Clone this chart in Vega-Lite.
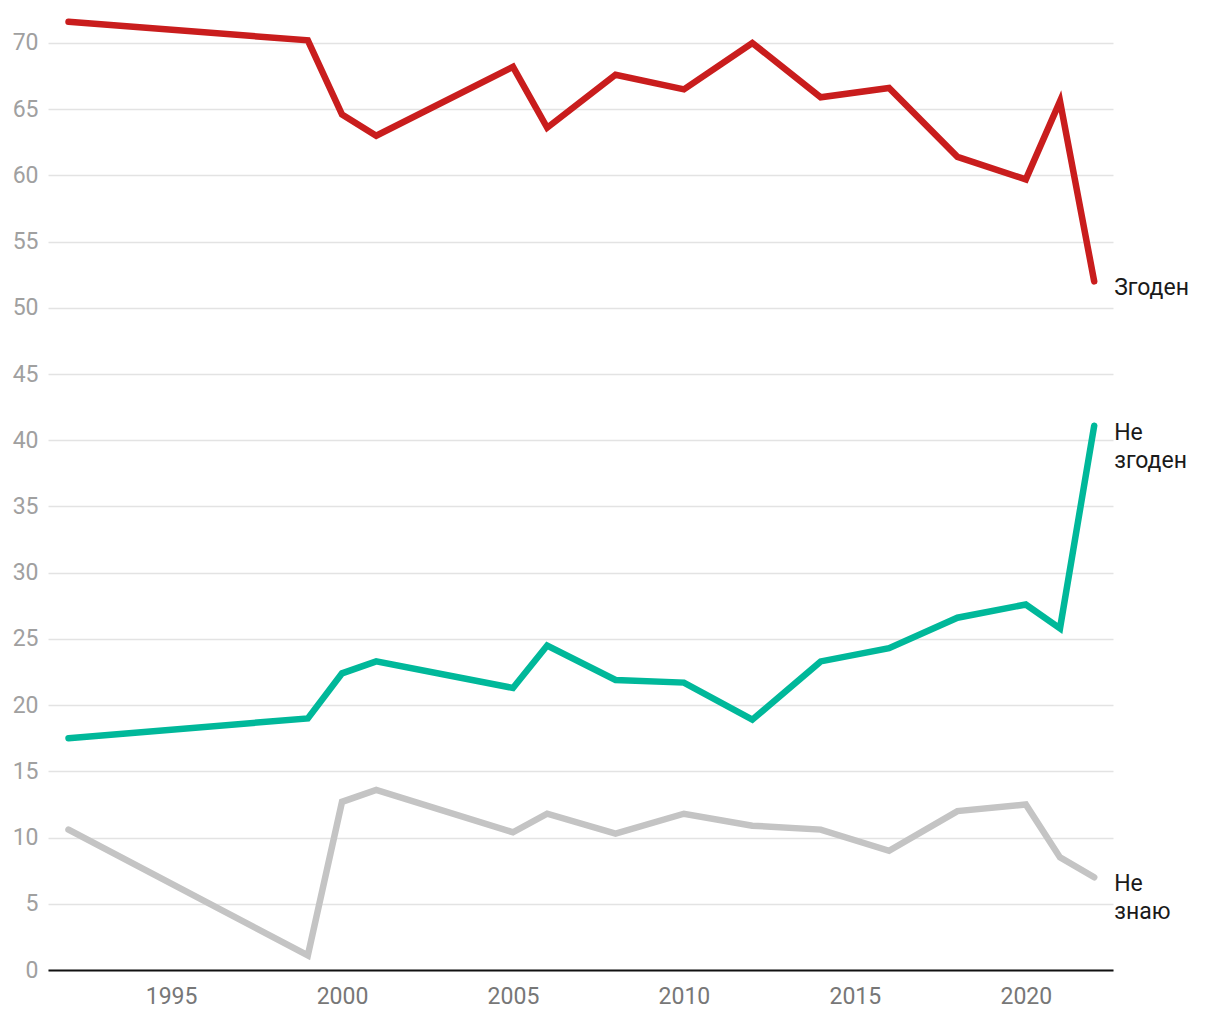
{
  "$schema": "https://vega.github.io/schema/vega-lite/v6.json",
  "width": 1065,
  "height": 960,
  "autosize": "none",
  "padding": {"left": 48, "top": 10, "right": 107, "bottom": 50},
  "background": "white",
  "config": {
    "font": "Roboto",
    "view": {"stroke": null},
    "text": {"lineBreak": "\n"}
  },
  "datasets": {
    "series": [
      {"year": 1992, "s": "Згоден", "v": 71.6},
      {"year": 1999, "s": "Згоден", "v": 70.2},
      {"year": 2000, "s": "Згоден", "v": 64.6},
      {"year": 2001, "s": "Згоден", "v": 63.0},
      {"year": 2005, "s": "Згоден", "v": 68.2},
      {"year": 2006, "s": "Згоден", "v": 63.6},
      {"year": 2008, "s": "Згоден", "v": 67.6},
      {"year": 2010, "s": "Згоден", "v": 66.5},
      {"year": 2012, "s": "Згоден", "v": 70.0},
      {"year": 2014, "s": "Згоден", "v": 65.9},
      {"year": 2016, "s": "Згоден", "v": 66.6},
      {"year": 2018, "s": "Згоден", "v": 61.4},
      {"year": 2020, "s": "Згоден", "v": 59.7},
      {"year": 2021, "s": "Згоден", "v": 65.6},
      {"year": 2022, "s": "Згоден", "v": 52.0},
      {"year": 1992, "s": "Не згоден", "v": 17.5},
      {"year": 1999, "s": "Не згоден", "v": 19.0},
      {"year": 2000, "s": "Не згоден", "v": 22.4},
      {"year": 2001, "s": "Не згоден", "v": 23.3},
      {"year": 2005, "s": "Не згоден", "v": 21.3},
      {"year": 2006, "s": "Не згоден", "v": 24.5},
      {"year": 2008, "s": "Не згоден", "v": 21.9},
      {"year": 2010, "s": "Не згоден", "v": 21.7},
      {"year": 2012, "s": "Не згоден", "v": 18.9},
      {"year": 2014, "s": "Не згоден", "v": 23.3},
      {"year": 2016, "s": "Не згоден", "v": 24.3},
      {"year": 2018, "s": "Не згоден", "v": 26.6},
      {"year": 2020, "s": "Не згоден", "v": 27.6},
      {"year": 2021, "s": "Не згоден", "v": 25.8},
      {"year": 2022, "s": "Не згоден", "v": 41.1},
      {"year": 1992, "s": "Не знаю", "v": 10.6},
      {"year": 1999, "s": "Не знаю", "v": 1.1},
      {"year": 2000, "s": "Не знаю", "v": 12.7},
      {"year": 2001, "s": "Не знаю", "v": 13.6},
      {"year": 2005, "s": "Не знаю", "v": 10.4},
      {"year": 2006, "s": "Не знаю", "v": 11.8},
      {"year": 2008, "s": "Не знаю", "v": 10.3},
      {"year": 2010, "s": "Не знаю", "v": 11.8},
      {"year": 2012, "s": "Не знаю", "v": 10.9},
      {"year": 2014, "s": "Не знаю", "v": 10.6},
      {"year": 2016, "s": "Не знаю", "v": 9.0},
      {"year": 2018, "s": "Не знаю", "v": 12.0},
      {"year": 2020, "s": "Не знаю", "v": 12.5},
      {"year": 2021, "s": "Не знаю", "v": 8.5},
      {"year": 2022, "s": "Не знаю", "v": 7.0}
    ],
    "labels": [
      {"year": 2022, "s": "Згоден", "v": 52.0, "label": "Згоден"},
      {"year": 2022, "s": "Не згоден", "v": 41.1, "label": "Не\nзгоден"},
      {"year": 2022, "s": "Не знаю", "v": 7.0, "label": "Не\nзнаю"}
    ]
  },
  "encoding": {
    "x": {
      "field": "year",
      "type": "quantitative",
      "scale": {"domain": [1991.4, 2022.55], "nice": false, "zero": false},
      "axis": {
        "title": null,
        "values": [1995, 2000, 2005, 2010, 2015, 2020],
        "format": "d",
        "grid": false,
        "ticks": false,
        "domainColor": "#111111",
        "domainWidth": 2,
        "labelColor": "#777777",
        "labelFontSize": 23,
        "labelPadding": 15,
        "labelFont": "Roboto"
      }
    },
    "y": {
      "field": "v",
      "type": "quantitative",
      "scale": {"domain": [0, 72.49], "nice": false},
      "axis": {
        "title": null,
        "values": [0, 5, 10, 15, 20, 25, 30, 35, 40, 45, 50, 55, 60, 65, 70],
        "domain": false,
        "ticks": false,
        "gridColor": "#e3e3e3",
        "gridWidth": 1.5,
        "labelColor": "#a0a0a0",
        "labelFontSize": 23,
        "labelPadding": 10,
        "labelFont": "Roboto"
      }
    },
    "color": {
      "field": "s",
      "type": "nominal",
      "scale": {"domain": ["Згоден", "Не згоден", "Не знаю"], "range": ["#c91d1d", "#00b89a", "#c4c4c4"]},
      "legend": null
    }
  },
  "layer": [
    {
      "data": {"name": "series"},
      "mark": {"type": "line", "strokeWidth": 6.5, "strokeCap": "round", "clip": false}
    },
    {
      "data": {"name": "labels"},
      "mark": {"type": "text", "align": "left", "baseline": "top", "dx": 20, "dy": -4, "fontSize": 23, "lineHeight": 28, "color": "#1a1a1a", "font": "Roboto"},
      "encoding": {
        "text": {"field": "label"},
        "color": {"value": "#1a1a1a"}
      }
    }
  ]
}
